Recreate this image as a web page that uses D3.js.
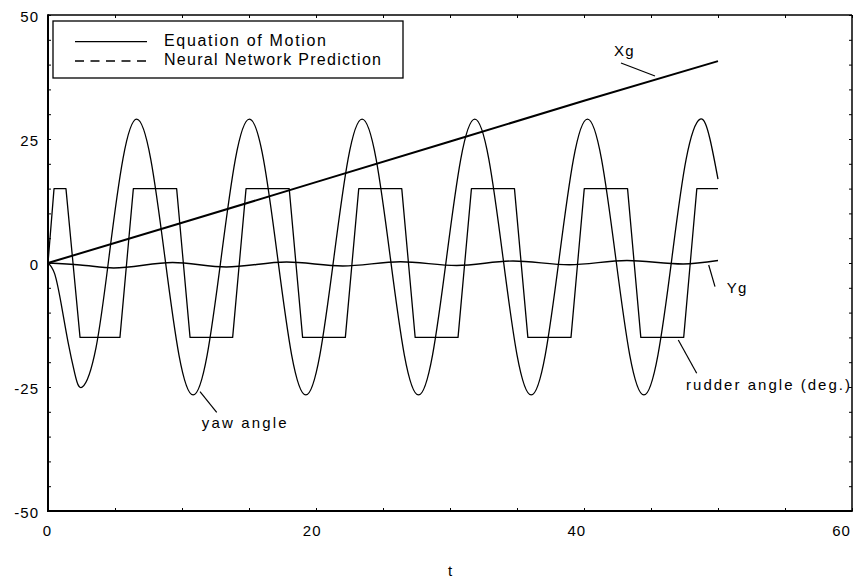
<!DOCTYPE html>
<html>
<head>
<meta charset="utf-8">
<script src="https://cdn.jsdelivr.net/npm/d3@7"></script>
<style>
  body { margin: 0; background: #fff; }
  svg { display: block; }
  text { font-family: Arial, "Liberation Sans", Helvetica, sans-serif; fill: #000; }
</style>
</head>
<body>
<svg id="chart" width="861" height="579"></svg>
<script>
// ---- data ----
const xTicks = [0, 20, 40, 60];
const yTicks = [-50, -25, 0, 25, 50];
const xLabel = "t";
const legendLabels = ["Equation of Motion", "Neural Network Prediction"];

// rudder angle (deg.) — zig-zag command
const rudderT   = [0, 0.45, 1.34, 2.39, 5.37, 6.37, 9.6, 10.6, 13.78, 14.78, 18.0, 19.0, 22.19,
                   23.19, 26.4, 27.4, 30.6, 31.6, 34.81, 35.81, 39.03, 40.02, 43.25, 44.24, 47.44, 48.42, 50];
const rudderDeg = [0, 15, 15, -15, -15, 15, 15, -15, -15, 15, 15, -15, -15,
                   15, 15, -15, -15, 15, 15, -15, -15, 15, 15, -15, -15, 15, 15];

// yaw angle
const yawT   = [0, 0.5, 1.0, 1.5, 2.0, 2.56, 3.58, 4.59, 5.6, 6.62,
                7.67, 8.72, 9.77, 10.83, 11.88, 12.93, 13.98, 15.03,
                16.08, 17.13, 18.18, 19.24, 20.29, 21.34, 22.39, 23.44,
                24.49, 25.54, 26.59, 27.65, 28.70, 29.75, 30.80, 31.85,
                32.90, 33.95, 35.00, 36.06, 37.11, 38.16, 39.21, 40.26,
                41.31, 42.36, 43.41, 44.47, 45.52, 46.57, 47.62, 48.67,
                49.4, 50];
const yawDeg = [0, -2.2, -8.5, -16, -22.3, -25, -17.1, 2, 21.1, 29,
                20.9, 1.2, -18.5, -26.6, -18.5, 1.2, 20.9, 29,
                20.9, 1.2, -18.5, -26.6, -18.5, 1.2, 20.9, 29,
                20.9, 1.2, -18.5, -26.6, -18.5, 1.2, 20.9, 29,
                20.9, 1.2, -18.5, -26.6, -18.5, 1.2, 20.9, 29,
                20.9, 1.2, -18.5, -26.6, -18.5, 1.2, 20.9, 29,
                25.0, 16.9];

// Xg position
const xgT   = [0, 10, 20, 30, 40, 50];
const xgVal = [0, 8.1, 16.3, 24.5, 32.7, 40.7];

// Yg position
const ygT   = [0, 2.4, 4.9, 9.3, 13.3, 17.8, 22.0, 26.3, 30.5, 34.7, 38.9, 43.2, 47.4, 50];
const ygVal = [0, -0.4, -1.0, 0.1, -0.8, 0.2, -0.6, 0.25, -0.5, 0.4, -0.35, 0.5, -0.2, 0.5];

// ---- layout ----
const plot = { left: 48, top: 15, right: 852, bottom: 511 };

const svg = d3.select("#chart");
const x = d3.scaleLinear().domain([0, 60]).range([plot.left, plot.right]);
const y = d3.scaleLinear().domain([-50, 50]).range([plot.bottom, plot.top]);

const zip = (a, b) => a.map((v, i) => [v, b[i]]);
const plain = d => String(d);   // keeps the ASCII hyphen for negatives

// ---- series ----
const lineLinear = d3.line().x(d => x(d[0])).y(d => y(d[1]));
const lineSmooth = d3.line().x(d => x(d[0])).y(d => y(d[1])).curve(d3.curveNatural);
const lineMono   = d3.line().x(d => x(d[0])).y(d => y(d[1])).curve(d3.curveMonotoneX);

const g = svg.append("g").attr("fill", "none").attr("stroke", "#000").attr("stroke-linejoin", "round");
g.append("path").attr("d", lineLinear(zip(rudderT, rudderDeg))).attr("stroke-width", 1.3);
g.append("path").attr("d", lineSmooth(zip(yawT, yawDeg))).attr("stroke-width", 1.3);
g.append("path").attr("d", lineMono(zip(ygT, ygVal))).attr("stroke-width", 1.4);
g.append("path").attr("d", lineLinear(zip(xgT, xgVal))).attr("stroke-width", 2);

// ---- ticks (inward on all four sides, every 5 units) ----
const minorX = d3.range(0, 60.001, 5);
const minorY = d3.range(-50, 50.001, 5);
const tickLen = 3;
svg.append("g").attr("transform", `translate(0,${plot.bottom})`)
  .call(d3.axisBottom(x).tickValues(minorX).tickSizeInner(-tickLen).tickSizeOuter(0).tickFormat(""))
  .call(a => a.select(".domain").remove());
svg.append("g").attr("transform", `translate(0,${plot.top})`)
  .call(d3.axisTop(x).tickValues(minorX).tickSizeInner(-tickLen).tickSizeOuter(0).tickFormat(""))
  .call(a => a.select(".domain").remove());
svg.append("g").attr("transform", `translate(${plot.left},0)`)
  .call(d3.axisLeft(y).tickValues(minorY).tickSizeInner(-tickLen).tickSizeOuter(0).tickFormat(""))
  .call(a => a.select(".domain").remove());
svg.append("g").attr("transform", `translate(${plot.right},0)`)
  .call(d3.axisRight(y).tickValues(minorY).tickSizeInner(-tickLen).tickSizeOuter(0).tickFormat(""))
  .call(a => a.select(".domain").remove());
svg.selectAll(".tick line").attr("stroke", "#000").attr("stroke-width", 1);

// ---- frame ----
const frame = svg.append("g").attr("stroke", "#000");
frame.append("line").attr("x1", plot.left).attr("x2", plot.right).attr("y1", plot.top).attr("y2", plot.top).attr("stroke-width", 1.5);
frame.append("line").attr("x1", plot.right).attr("x2", plot.right).attr("y1", plot.top).attr("y2", plot.bottom).attr("stroke-width", 1.5);
frame.append("line").attr("x1", plot.left).attr("x2", plot.left).attr("y1", plot.top - 0.75).attr("y2", plot.bottom + 1).attr("stroke-width", 2);
frame.append("line").attr("x1", plot.left).attr("x2", plot.right + 0.75).attr("y1", plot.bottom).attr("y2", plot.bottom).attr("stroke-width", 2);

// ---- tick labels ----
const xl = svg.append("g").attr("transform", `translate(0,${plot.bottom})`)
  .call(d3.axisBottom(x).tickValues(xTicks).tickSize(0).tickFormat(plain));
xl.select(".domain").remove();
xl.selectAll("text")
  .attr("y", 25).attr("dy", 0)
  .attr("dx", d => -1 - 10 * d / 60)
  .style("font-size", "15px").style("letter-spacing", "1px")
  .style("font-family", "Arial, 'Liberation Sans', sans-serif").attr("fill", "#000");

const yl = svg.append("g").attr("transform", `translate(${plot.left},0)`)
  .call(d3.axisLeft(y).tickValues(yTicks).tickSize(0).tickPadding(9).tickFormat(plain));
yl.select(".domain").remove();
yl.selectAll("text")
  .attr("dy", "0.4em")
  .style("font-size", "15px").style("letter-spacing", "1px")
  .style("font-family", "Arial, 'Liberation Sans', sans-serif").attr("fill", "#000");

// axis title
svg.append("text").attr("x", (plot.left + plot.right) / 2).attr("y", 576)
  .attr("text-anchor", "middle").style("font-size", "15px").text(xLabel);

// ---- legend ----
const leg = svg.append("g");
leg.append("rect").attr("x", 53).attr("y", 21).attr("width", 350).attr("height", 57)
  .attr("fill", "#fff").attr("stroke", "#000").attr("stroke-width", 1.3);
const legRows = [
  { label: legendLabels[0], dash: null, ly: 41.7, ty: 45.6, len: 162 },
  { label: legendLabels[1], dash: "9,6.5", ly: 61, ty: 64.8, len: 217 }
];
legRows.forEach(r => {
  leg.append("line").attr("x1", 75).attr("x2", 147).attr("y1", r.ly).attr("y2", r.ly)
    .attr("stroke", "#000").attr("stroke-width", 1.3).attr("stroke-dasharray", r.dash);
  leg.append("text").attr("x", 164).attr("y", r.ty).style("font-size", "16px")
    .attr("textLength", r.len).attr("lengthAdjust", "spacing").text(r.label);
});

// ---- curve annotations ----
const notes = [
  { text: "Xg", line: [[621, 63], [655, 76]], tx: 614, ty: 56 },
  { text: "Yg", line: [[708.7, 265], [715, 286.7]], tx: 726.7, ty: 293.3 },
  { text: "rudder angle (deg.)", line: [[678.3, 340], [696.7, 373.3]], tx: 686, ty: 390, len: 164 },
  { text: "yaw angle", line: [[200, 391.7], [216.7, 412.3]], tx: 201.7, ty: 427.7, len: 85 }
];
notes.forEach(n => {
  svg.append("line").attr("x1", n.line[0][0]).attr("y1", n.line[0][1])
    .attr("x2", n.line[1][0]).attr("y2", n.line[1][1])
    .attr("stroke", "#000").attr("stroke-width", 1.2);
  const t = svg.append("text").attr("x", n.tx).attr("y", n.ty).style("font-size", "15px")
    .style("letter-spacing", "1.2px").text(n.text);
  if (n.len) t.style("letter-spacing", null).attr("textLength", n.len).attr("lengthAdjust", "spacing");
});
</script>
</body>
</html>
